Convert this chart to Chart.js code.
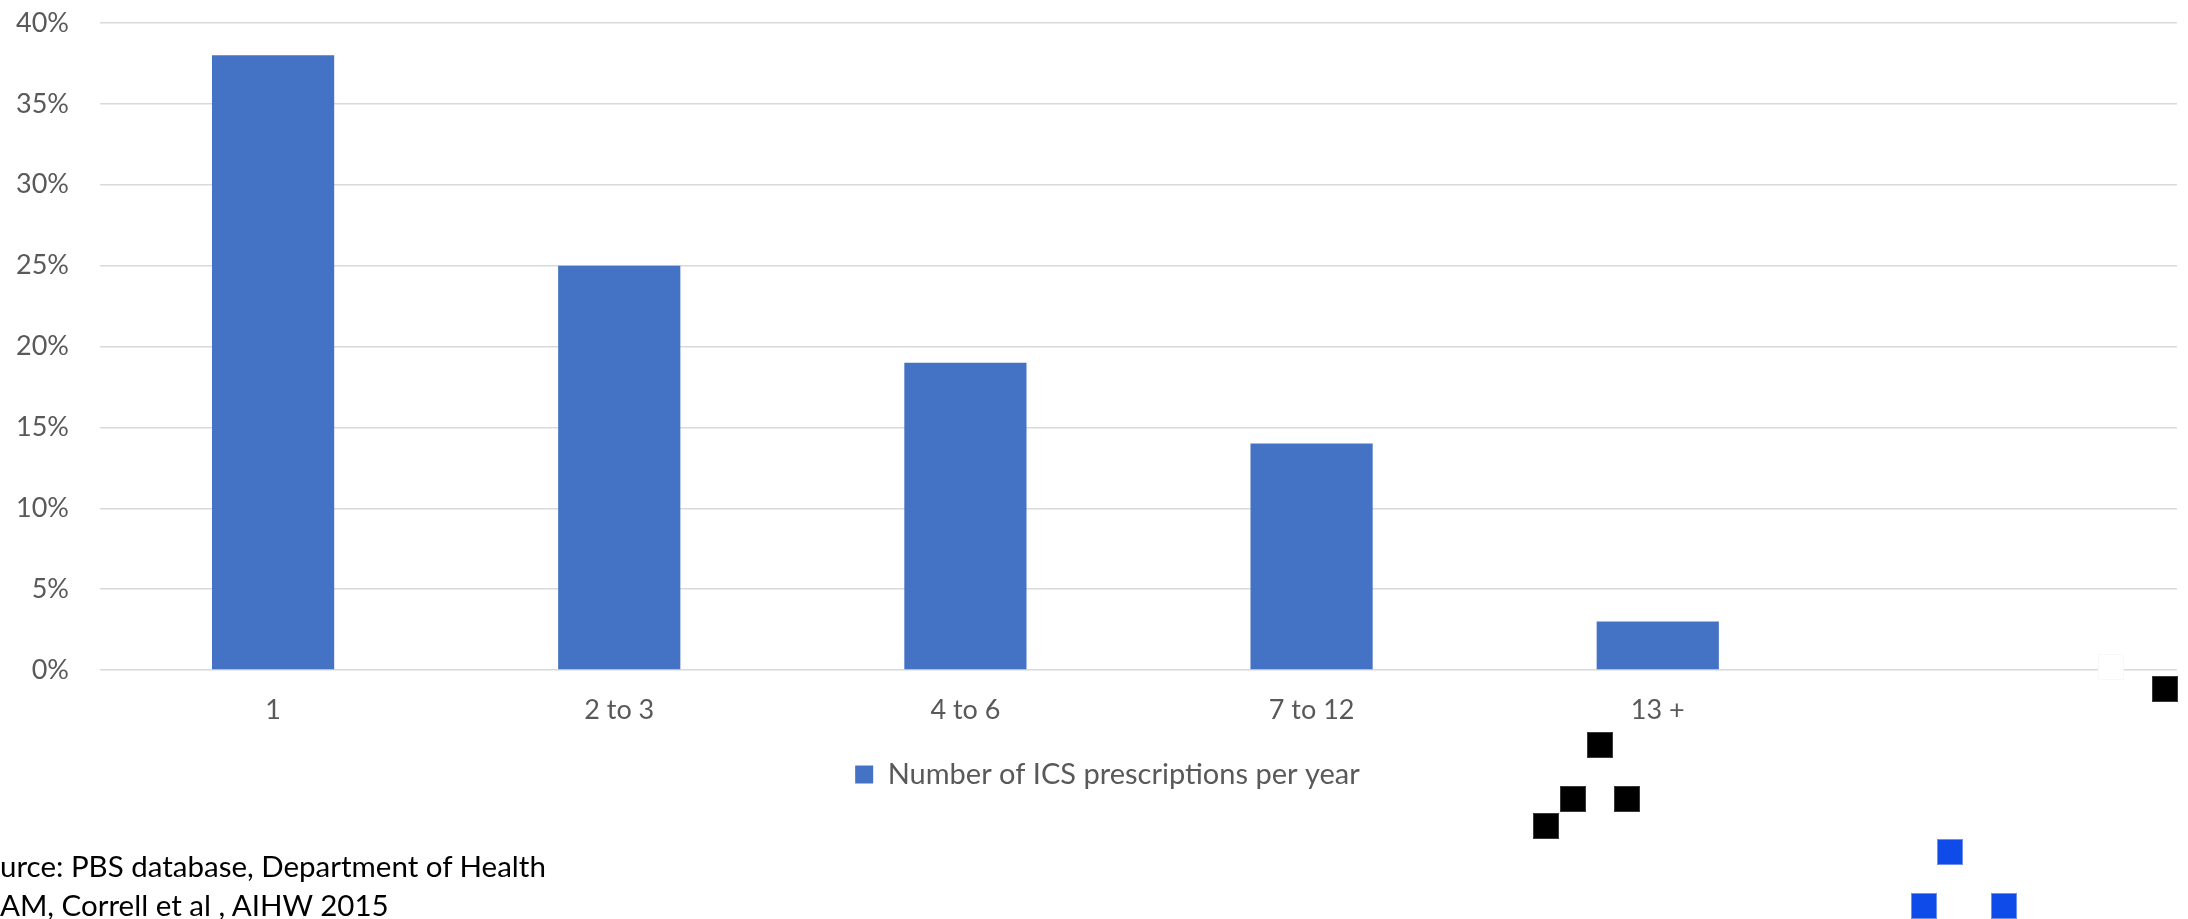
<!DOCTYPE html>
<html>
<head>
<meta charset="utf-8">
<script src="https://cdn.jsdelivr.net/npm/chart.js@4/dist/chart.umd.min.js"></script>
<style>
  html, body { margin: 0; padding: 0; background: #ffffff; }
  #wrap { position: relative; width: 2188px; height: 919px; overflow: hidden; background: #ffffff; }
  #c { position: absolute; left: 0; top: 0; }
  .note { position: absolute; left: 0; font-family: Lato, "Noto Sans", sans-serif; font-size: 29.5px; color: #000000; white-space: nowrap; line-height: 1; }
  .sq { position: absolute; width: 26px; height: 26px; box-sizing: border-box; }
  .blk { background: #000000; border: 1px solid #3a3a3a; }
  .blu { background: #0f4be8; border: 1px solid #6f8ff0; }
  .ghost { background: #ffffff; border: 1px solid #f8f8f8; }
</style>
</head>
<body>
<div id="wrap">
  <canvas id="c" width="2188" height="919"></canvas>

  <div class="note" style="top:851px;">urce: PBS database, Department of Health</div>
  <div class="note" style="top:890px;">AM, Correll et al , AIHW 2015</div>

  <div class="sq ghost" style="left:2098px; top:654px;"></div>
  <div class="sq blk" style="left:1587px; top:732px;"></div>
  <div class="sq blk" style="left:1560px; top:786px;"></div>
  <div class="sq blk" style="left:1614px; top:786px;"></div>
  <div class="sq blk" style="left:1533px; top:813px;"></div>
  <div class="sq blk" style="left:2152px; top:676px;"></div>
  <div class="sq blu" style="left:1937px; top:839px;"></div>
  <div class="sq blu" style="left:1911px; top:893px;"></div>
  <div class="sq blu" style="left:1991px; top:893px;"></div>
</div>

<script>
// Share of patients by number of inhaled corticosteroid prescriptions filled per year
const categories = ['1', '2 to 3', '4 to 6', '7 to 12', '13 +', ''];
const seriesName = 'Number of ICS prescriptions per year';
const sharePercent = [38, 25, 19, 14, 3, null];
const yTicks = [0, 5, 10, 15, 20, 25, 30, 35, 40];

const FONT = 'Lato, "Noto Sans", sans-serif';
const TEXT_GREY = '#595959';
const GRID_GREY = '#d9d9d9';
const BAR_BLUE = '#4472c4';

// Nudge the bottom legend a little to the right of the canvas centre
const legendNudge = {
  id: 'legendNudge',
  afterLayout(chart) {
    const lg = chart.legend;
    if (lg) { lg.left += 19; lg.right += 19; }
  }
};

new Chart(document.getElementById('c'), {
  type: 'bar',
  data: {
    labels: categories,
    datasets: [{
      label: seriesName,
      data: sharePercent,
      backgroundColor: BAR_BLUE,
      borderWidth: 0,
      categoryPercentage: 1,
      barPercentage: 0.353
    }]
  },
  plugins: [legendNudge],
  options: {
    responsive: false,
    animation: false,
    devicePixelRatio: 1,
    layout: { padding: { left: 0, right: 11, top: 0, bottom: 120 } },
    plugins: {
      tooltip: { enabled: false },
      legend: {
        display: true,
        position: 'bottom',
        labels: {
          font: { family: FONT, size: 29 },
          color: TEXT_GREY,
          boxWidth: 18,
          boxHeight: 18,
          padding: 10
        }
      }
    },
    scales: {
      x: {
        grid: { display: false, drawTicks: false },
        border: { display: false },
        ticks: {
          font: { family: FONT, size: 27 },
          color: TEXT_GREY,
          padding: 24,
          maxRotation: 0,
          autoSkip: false
        },
        afterFit: (s) => { s.height = 80; }
      },
      y: {
        min: yTicks[0],
        max: yTicks[yTicks.length - 1],
        afterBuildTicks: (s) => { s.ticks = yTicks.map(v => ({ value: v })); },
        grid: { color: GRID_GREY, lineWidth: 1.5, drawTicks: false },
        border: { display: false },
        ticks: {
          font: { family: FONT, size: 27 },
          color: TEXT_GREY,
          padding: 31,
          callback: (v) => v + '%'
        },
        afterFit: (s) => { s.width = 100; s.paddingTop = 23; s.paddingBottom = 0; }
      }
    }
  }
});
</script>
</body>
</html>
